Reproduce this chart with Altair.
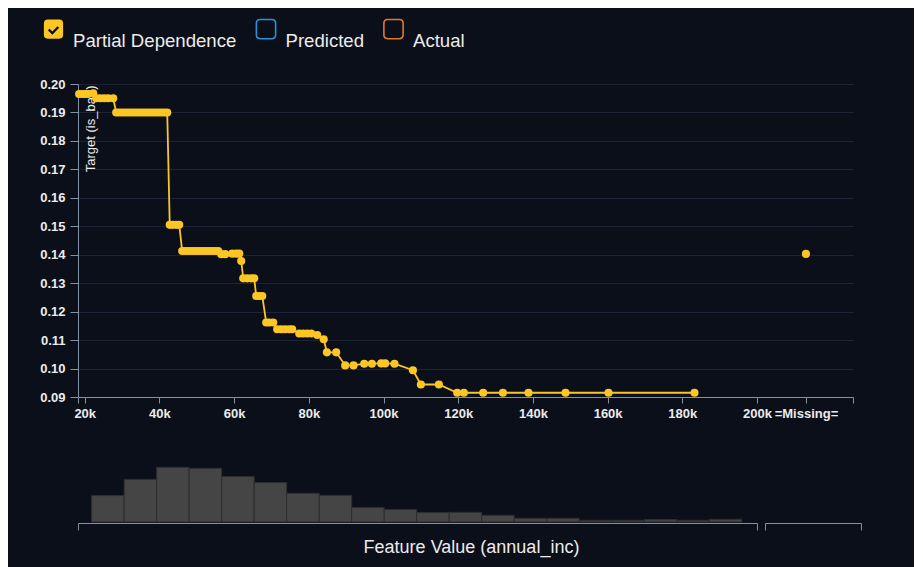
import altair as alt
import pandas as pd

# ---------------- colours / fonts ----------------
BG = "#0b0f1a"
YELLOW = "#fcc624"
BLUE = "#2f8fd8"
ORANGE = "#e0772f"
AXIS = "#8292a6"
GRID = "#1b2335"
TEXT = "#ececec"
BAR = "#454545"
FONT = "Liberation Sans"

# ---------------- data ----------------
pd_income = [18500, 19330, 20130, 20940, 22280, 23080, 24150, 25220, 26290, 27630,
             28430, 29240, 30040, 30840, 31650, 32450, 33250, 34060, 34860, 35660,
             36470, 37270, 38070, 38880, 39680, 40480, 41290, 42090,
             42760, 43560, 44500, 45300,
             46100, 46910, 47710, 48510, 49320, 50120, 50920, 51730, 52530, 53330,
             54140, 54940, 55740,
             56550, 57620, 59490, 60560, 61370, 61900,
             62440, 63510, 64580, 65380, 65920, 66720, 67530,
             68590, 69400, 70470, 71540, 72610, 73680, 74750, 75550,
             77430, 78500, 79570, 80640, 82250, 83990, 84840, 87330,
             89740, 91970, 94830, 96890, 99380, 100450, 102940, 107870,
             110010, 114830, 119730, 121520, 126690, 131970, 138820, 148730,
             160240, 183260]
pd_target = [0.1965, 0.1965, 0.1965, 0.1965, 0.1967, 0.1950, 0.1950, 0.1950, 0.1950, 0.1950,
             0.1900, 0.1900, 0.1900, 0.1900, 0.1900, 0.1900, 0.1900, 0.1900, 0.1900, 0.1900,
             0.1900, 0.1900, 0.1900, 0.1900, 0.1900, 0.1900, 0.1900, 0.1900,
             0.1505, 0.1505, 0.1505, 0.1505,
             0.1413, 0.1413, 0.1413, 0.1413, 0.1413, 0.1413, 0.1413, 0.1413, 0.1413, 0.1413,
             0.1413, 0.1413, 0.1413,
             0.1402, 0.1402, 0.1404, 0.1404, 0.1404, 0.1378,
             0.1317, 0.1317, 0.1317, 0.1317, 0.1255, 0.1255, 0.1255,
             0.1162, 0.1162, 0.1162, 0.1138, 0.1138, 0.1138, 0.1138, 0.1138,
             0.1123, 0.1123, 0.1123, 0.1123, 0.1118, 0.1103, 0.1057, 0.1057,
             0.1011, 0.1011, 0.1017, 0.1017, 0.1018, 0.1018, 0.1017, 0.0994,
             0.0944, 0.0944, 0.0915, 0.0915, 0.0915, 0.0915, 0.0915, 0.0915,
             0.0915, 0.0915]
missing_target = 0.1403

hist_counts = [2640, 4270, 5470, 5370, 4540, 3940, 2870, 2670, 1440, 1240,
               940, 970, 670, 370, 370, 170, 170, 240, 170, 270]
hist_missing_count = [0]

legend_names = ["Partial Dependence", "Predicted", "Actual"]

x_tick_values = [20000, 40000, 60000, 80000, 100000, 120000, 140000, 160000, 180000, 200000]
y_tick_values = [0.09, 0.10, 0.11, 0.12, 0.13, 0.14, 0.15, 0.16, 0.17, 0.18, 0.19, 0.20]
X_START = 18200      # left end of the feature axis
MISSING_POS = 213100  # slot of the "=Missing=" category on the axis
X_END = 225700       # right end of the feature axis

# legend symbols: rounded box (raised a little above the label line), and a checked box
BOX = ("M-0.6,-1.3 L0.6,-1.3 Q1,-1.3 1,-0.9 L1,0.3 Q1,0.7 0.6,0.7 L-0.6,0.7 "
       "Q-1,0.7 -1,0.3 L-1,-0.9 Q-1,-1.3 -0.6,-1.3 Z")
CHECK = BOX + " M-0.416,-0.336 L-0.584,-0.164 L-0.12,0.29 L0.586,-0.436 L0.414,-0.604 L-0.12,-0.05 Z"

# ---------------- top chart ----------------
pd_df = pd.DataFrame({"income": pd_income, "target": pd_target})
miss_df = pd.DataFrame({"income": [MISSING_POS], "target": [missing_target]})
leg_df = pd.DataFrame({"series": legend_names, "income": [None] * 3, "target": [None] * 3})

x_axis = alt.Axis(
    values=[X_START] + x_tick_values + [MISSING_POS, X_END], tickCount=30,
    labelExpr=f"datum.value == {X_START} || datum.value == {X_END} ? '' : "
              f"datum.value == {MISSING_POS} ? '=Missing=' : format(datum.value / 1000, 'd') + 'k'",
    title=None, grid=False, labelFontSize=13, labelColor=TEXT, labelFont=FONT,
    labelFontWeight="bold", labelPadding=4, tickSize=6, tickColor=AXIS, domainColor=AXIS,
    labelFlush=False, labelOverlap=False,
)
y_axis = alt.Axis(
    values=y_tick_values, tickCount=30, format=".2f", grid=True, gridColor=GRID,
    labelFontSize=13, labelColor=TEXT, labelFont=FONT, labelFontWeight="bold",
    labelPadding=5, labelOverlap=False,
    tickSize=8, tickColor=AXIS, domainColor=AXIS,
    title="Target (is_bad)", titleFontSize=13, titleFont=FONT, titleColor=TEXT,
    titleFontWeight="normal", titleAngle=-90, titleX=12, titleY=1,
    titleAlign="right", titleBaseline="middle",
)
xs = alt.Scale(domain=[X_START, X_END], nice=False, zero=False)
ys = alt.Scale(domain=[0.09, 0.20], nice=False, zero=False)

line = alt.Chart(pd_df).mark_line(color=YELLOW, strokeWidth=1.8).encode(
    x=alt.X("income:Q", scale=xs, axis=x_axis),
    y=alt.Y("target:Q", scale=ys, axis=y_axis),
)
pts = alt.Chart(pd_df).mark_circle(color=YELLOW, size=66, opacity=1).encode(
    x="income:Q", y="target:Q")
miss = alt.Chart(miss_df).mark_circle(color=YELLOW, size=66, opacity=1).encode(
    x="income:Q", y="target:Q")

legend = alt.Legend(
    orient="none", legendX=-35, legendY=-63, direction="horizontal", title=None,
    labelFontSize=18.6, labelColor=TEXT, labelFont=FONT, labelBaseline="top",
    labelLimit=400, labelOffset=9, columnPadding=15.5, padding=0,
    symbolSize=370, symbolStrokeWidth=1.6,
)
leg = alt.Chart(leg_df).mark_point(strokeWidth=1.6, opacity=1).encode(
    x="income:Q", y="target:Q",
    stroke=alt.Stroke("series:N", scale=alt.Scale(domain=legend_names,
                      range=["transparent", BLUE, ORANGE]), legend=legend),
    fill=alt.Fill("series:N", scale=alt.Scale(domain=legend_names,
                  range=[YELLOW, "transparent", "transparent"]), legend=legend),
    shape=alt.Shape("series:N", scale=alt.Scale(domain=legend_names,
                    range=[CHECK, BOX, BOX]), legend=legend),
)

top = alt.layer(line, pts, miss, leg).properties(width=775, height=313)

# ---------------- histogram ----------------
hist_df = pd.DataFrame({"b0": list(range(20)), "b1": list(range(1, 21)), "count": hist_counts})
hmiss_df = pd.DataFrame({"b0": [0], "b1": [1], "count": hist_missing_count})


def bracket_axis(lo, hi):
    return alt.Axis(values=[lo, hi], labels=False, grid=False, title=None,
                    tickSize=7, tickColor=AXIS, domainColor=AXIS, offset=1)


hy = alt.Scale(domain=[0, 6000], nice=False)
hist_main = alt.Chart(hist_df).mark_rect(color=BAR, stroke="#2e2e2e", strokeWidth=1).encode(
    x=alt.X("b0:Q", scale=alt.Scale(domain=[-0.42, 20.47], nice=False, zero=False),
            axis=bracket_axis(-0.42, 20.47)),
    x2="b1:Q",
    y=alt.Y("count:Q", scale=hy, axis=None),
).properties(width=679, height=60)

hist_miss = alt.Chart(hmiss_df).mark_rect(color=BAR).encode(
    x=alt.X("b0:Q", scale=alt.Scale(domain=[-0.2, 1.2], nice=False, zero=False),
            axis=bracket_axis(-0.2, 1.2)),
    x2="b1:Q",
    y=alt.Y("count:Q", scale=hy, axis=None),
).properties(width=96, height=60)

bottom = alt.hconcat(hist_main, hist_miss, spacing=8, bounds="flush").properties(
    title=alt.TitleParams("Feature Value (annual_inc)", orient="bottom", anchor="middle",
                          fontSize=18, font=FONT, color=TEXT, fontWeight="normal",
                          offset=8, dx=2)
)

chart = alt.vconcat(top, bottom, spacing=65, bounds="flush").configure(
    background=BG,
    padding={"left": 31, "top": 13, "right": 52, "bottom": 20},
).configure_view(strokeWidth=0)

chart.save("out.html", embed_options={"renderer": "svg", "actions": False})
